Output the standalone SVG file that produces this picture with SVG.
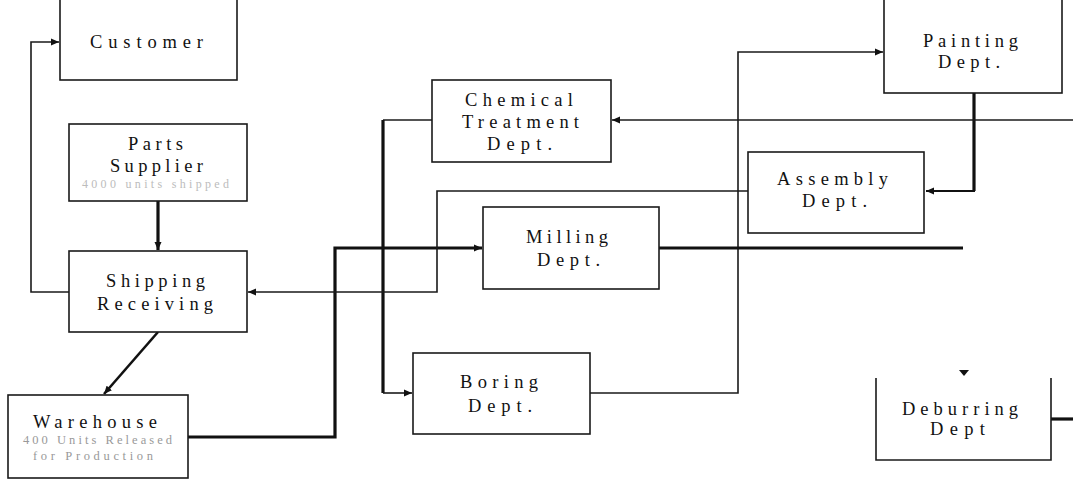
<svg xmlns="http://www.w3.org/2000/svg" width="1073" height="481" viewBox="0 0 1073 481">
<style>
.box{fill:#fff;stroke:#1a1a1a;stroke-width:1.6}
.t{font-family:"Liberation Serif","DejaVu Serif",serif;font-size:18.5px;fill:#111}
.s{font-family:"Liberation Serif","DejaVu Serif",serif;font-size:12.5px;fill:#999}
.s2{font-family:"Liberation Serif","DejaVu Serif",serif;font-size:12px;fill:#bcbcbc}
.thin{fill:none;stroke:#1a1a1a;stroke-width:1.6}
.thick{fill:none;stroke:#111;stroke-width:3.2}
</style>
<defs>
<marker id="ah" markerUnits="userSpaceOnUse" markerWidth="9" markerHeight="8" refX="8" refY="4" orient="auto">
<path d="M0,0.5 L8,4 L0,7.5 Z" fill="#111"/>
</marker>
</defs>
<rect width="1073" height="481" fill="#fff"/>
<g id="connectors">
<path class="thin" d="M69,292 H31 V42 H59" marker-end="url(#ah)"/>
<path class="thick" d="M158,201 V250" marker-end="url(#ah)"/>
<path style="fill:none;stroke:#111;stroke-width:2.6" d="M158,332 L104,394" marker-end="url(#ah)"/>
<path class="thick" d="M188,437 H335 V248 H482" marker-end="url(#ah)"/>
<path class="thin" d="M432,120 H383"/>
<path class="thick" d="M383,120 V393"/>
<path class="thin" d="M383,393 H412" marker-end="url(#ah)"/>
<path class="thin" d="M590,393 H738 V52 H883" marker-end="url(#ah)"/>
<path class="thick" d="M974,93 V191"/>
<path style="fill:none;stroke:#111;stroke-width:2" d="M975,191 H926" marker-end="url(#ah)"/>
<path class="thin" d="M748,191 H437 V292 H248" marker-end="url(#ah)"/>
<path class="thin" d="M1073,120 H612" marker-end="url(#ah)"/>
<path class="thick" d="M659,248 H963"/>
<path d="M959,370 L969,370 L964,376 Z" fill="#111"/>
<path class="thick" d="M1051,419 H1073"/>
</g>
<g id="customer">
<rect class="box" x="60" y="-5" width="177" height="85"/>
<text class="t" x="90" y="48" textLength="113" lengthAdjust="spacing">Customer</text>
</g>
<g id="parts-supplier">
<rect class="box" x="69" y="124" width="178" height="77"/>
<text class="t" x="128" y="150" textLength="55" lengthAdjust="spacing">Parts</text>
<text class="t" x="110" y="172" textLength="93" lengthAdjust="spacing">Supplier</text>
<text class="s2" x="82" y="188" textLength="147" lengthAdjust="spacing">4000 units shipped</text>
</g>
<g id="shipping-receiving">
<rect class="box" x="69" y="251" width="178" height="81"/>
<text class="t" x="106" y="287" textLength="99" lengthAdjust="spacing">Shipping</text>
<text class="t" x="97" y="310" textLength="116" lengthAdjust="spacing">Receiving</text>
</g>
<g id="warehouse">
<rect class="box" x="8" y="395" width="180" height="83"/>
<text class="t" x="33" y="428" textLength="124" lengthAdjust="spacing">Warehouse</text>
<text class="s" x="23" y="444" textLength="149" lengthAdjust="spacing">400 Units Released</text>
<text class="s" x="33" y="460" textLength="120" lengthAdjust="spacing">for Production</text>
</g>
<g id="chemical-treatment">
<rect class="box" x="432" y="80" width="179" height="82"/>
<text class="t" x="465" y="106" textLength="108" lengthAdjust="spacing">Chemical</text>
<text class="t" x="462" y="128" textLength="117" lengthAdjust="spacing">Treatment</text>
<text class="t" x="487" y="150" textLength="65" lengthAdjust="spacing">Dept.</text>
</g>
<g id="milling">
<rect class="box" x="483" y="207" width="176" height="82"/>
<text class="t" x="526" y="243" textLength="82" lengthAdjust="spacing">Milling</text>
<text class="t" x="537" y="266" textLength="63" lengthAdjust="spacing">Dept.</text>
</g>
<g id="boring">
<rect class="box" x="413" y="353" width="177" height="81"/>
<text class="t" x="460" y="388" textLength="78" lengthAdjust="spacing">Boring</text>
<text class="t" x="468" y="412" textLength="64" lengthAdjust="spacing">Dept.</text>
</g>
<g id="painting">
<rect class="box" x="884" y="-5" width="178" height="98"/>
<text class="t" x="923" y="47" textLength="95" lengthAdjust="spacing">Painting</text>
<text class="t" x="938" y="68" textLength="62" lengthAdjust="spacing">Dept.</text>
</g>
<g id="assembly">
<rect class="box" x="748" y="152" width="176" height="81"/>
<text class="t" x="777" y="185" textLength="111" lengthAdjust="spacing">Assembly</text>
<text class="t" x="802" y="207" textLength="65" lengthAdjust="spacing">Dept.</text>
</g>
<g id="deburring">
<path class="box" d="M876,378 V460 H1051 V378"/>
<text class="t" x="902" y="415" textLength="116" lengthAdjust="spacing">Deburring</text>
<text class="t" x="930" y="435" textLength="55" lengthAdjust="spacing">Dept</text>
</g>
</svg>
